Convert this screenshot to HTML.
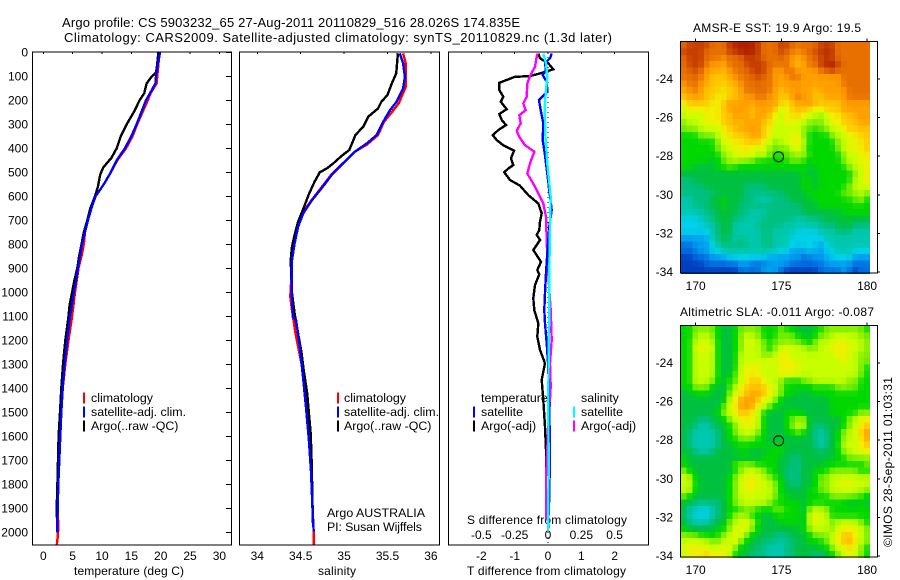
<!DOCTYPE html>
<html>
<head>
<meta charset="utf-8">
<style>
html,body{margin:0;padding:0;background:#fff}
svg{display:block;font-family:"Liberation Sans",sans-serif;fill:#000}
text{font-size:12px;fill:#000}
text.big{font-size:13px}
text.leg{font-size:12.4px}
</style>
</head>
<body>
<svg id="chart" width="900" height="580" viewBox="0 0 900 580" xmlns="http://www.w3.org/2000/svg">
<rect x="0" y="0" width="900" height="580" fill="#fff"/>
<text class="big" x="62" y="27" textLength="458">Argo profile: CS 5903232_65 27-Aug-2011 20110829_516 28.026S 174.835E</text>
<text class="big" x="64" y="42" textLength="548">Climatology: CARS2009. Satellite-adjusted climatology: synTS_20110829.nc (1.3d later)</text>
<text x="693" y="32" textLength="168">AMSR-E SST: 19.9 Argo: 19.5</text>
<text x="680" y="316" textLength="194">Altimetric SLA: -0.011 Argo: -0.087</text>
<text x="74" y="575" textLength="110">temperature (deg C)</text>
<text x="318" y="575" textLength="38">salinity</text>
<text x="467" y="575" textLength="159">T difference from climatology</text>
<text x="467" y="524" textLength="160">S difference from climatology</text>
<text class="leg" x="327" y="517" textLength="98">Argo AUSTRALIA</text>
<text class="leg" x="327" y="531" textLength="95">PI: Susan Wijffels</text>
<text transform="translate(892,547) rotate(-90)" textLength="170">©IMOS 28-Sep-2011 01:03:31</text>
</svg>
<script>
// ---- chart data ----
const depthTicks = [0,100,200,300,400,500,600,700,800,900,1000,1100,1200,1300,1400,1500,1600,1700,1800,1900,2000];
const tempTicks = [0,5,10,15,20,25,30];
const salTicks = [34,34.5,35,35.5,36];
const salTickLabels = ['34','34.5','35','35.5','36'];
const tDiffTicks = [-2,-1,0,1,2];
const tDiffLabels = ['-2','-1','0','1','2'];
const sDiffTicks = [-0.5,-0.25,0,0.25,0.5];
const sDiffLabels = ['-0.5','-0.25','0','0.25','0.5'];
const lonTicks = [170,175,180];
const latTicks = [-24,-26,-28,-30,-32,-34];
const floatLon = 174.835;
const floatLat = -28.026;

const tempClimDepth = [0,50,100,130,170,200,250,300,350,400,450,500,550,600,650,700,750,800,850,900,1000,1100,1200,1300,1400,1500,1600,1700,1800,1900,1980,2020,2055];
const tempClim = [19.8,19.6,19.4,19.3,18.3,17.8,16.9,16,15.2,14.1,12.6,11.5,10.3,8.9,8.2,7.6,7.1,6.9,6.5,6,5.4,4.9,4.3,3.75,3.3,3.07,2.9,2.73,2.56,2.45,2.55,2.45,2.28];
const tempSatDepth = [0,50,100,130,170,200,250,300,350,400,450,500,550,600,650,700,750,800,850,900,950,1000,1050,1100,1200,1300,1400,1500,1600,1700,1800,1900,2000];
const tempSat = [19.9,19.5,19.2,19.1,18.2,17.5,16.7,15.9,15,13.9,12.5,11.5,10.3,8.9,8.2,7.6,7.1,6.6,6.25,5.9,5.6,5.2,4.9,4.55,4.05,3.63,3.3,3.07,2.9,2.73,2.56,2.45,2.33];
const tempArgoDepth = [0,50,85,100,130,170,200,250,300,350,400,440,480,510,560,600,650,700,750,800,850,900,950,1000,1050,1100,1200,1300,1400,1500,1600,1700,1800,1900,2000];
const tempArgo = [19.6,19.4,19.2,18.5,17.6,17.2,16.4,15.4,14.2,13.2,12.5,11.6,10.2,9.7,9.3,8.8,8,7.5,6.9,6.5,6.1,5.8,5.3,4.9,4.5,4.3,3.75,3.35,3.07,2.85,2.6,2.5,2.4,2.28,2.4];

const salClimDepth = [4,46,100,145,212,250,289,345,385,414,463,511,567,616,671,727,796,866,949,1018,1074,1171,1300,1450,1600,1750,1890,2000,2055];
const salClim = [35.68,35.71,35.71,35.71,35.63,35.55,35.46,35.39,35.26,35.125,34.985,34.85,34.73,34.625,34.52,34.46,34.42,34.395,34.39,34.38,34.4,34.44,34.51,34.565,34.605,34.625,34.635,34.65,34.65];
const salSatDepth = [4,46,102,150,206,241,289,345,380,414,463,511,567,616,671,727,796,866,949,1032,1102,1115,1226,1365,1476,1615,1754,1893,1997];
const salSat = [35.64,35.68,35.7,35.68,35.605,35.53,35.45,35.375,35.26,35.125,34.99,34.857,34.74,34.63,34.53,34.47,34.43,34.4,34.395,34.4,34.41,34.446,34.49,34.53,34.56,34.595,34.62,34.635,34.65];
const salArgoDepth = [4,88,130,178,206,234,268,310,345,407,432,463,484,500,539,595,643,706,761,810,866,921,1004,1088,1171,1254,1324,1421,1504,1588,1699,1851,1962];
const salArgo = [35.62,35.6,35.55,35.5,35.43,35.39,35.28,35.22,35.13,35.06,34.97,34.875,34.8,34.72,34.66,34.59,34.54,34.47,34.43,34.4,34.385,34.39,34.4,34.43,34.47,34.51,34.535,34.575,34.595,34.615,34.625,34.635,34.64];

const dTempArgoDepth = [5,25,46,71,88,99,102,118,127,157,185,206,237,257,282,303,324,345,366,387,410,442,470,484,500,532,556,595,630,671,706,741,761,782,824,873,907,925,970,1025,1074,1129,1185,1240,1296,1365,1449,1560,1657,1761];
const dTempArgo = [-0.29,-0.24,0.01,0.16,-0.24,-0.54,-0.99,-1.29,-1.46,-1.46,-1.34,-1.42,-1.24,-1.46,-1.39,-1.26,-1.49,-1.66,-1.54,-1.34,-1.02,-1.11,-1.04,-1.19,-1.31,-1.14,-0.84,-0.59,-0.29,-0.19,-0.24,-0.26,-0.34,-0.24,-0.44,-0.21,-0.32,-0.26,-0.39,-0.44,-0.41,-0.29,-0.32,-0.24,-0.09,-0.19,-0.14,-0.09,-0.06,-0.06];
const dTempSatDepth = [5,25,46,74,95,123,164,199,241,296,366,428,505,574,657,727,838,921,1004,1074,1129,1213,1310,1504,1643,1851,1990];
const dTempSat = [0.11,0.06,-0.09,-0.06,-0.16,-0.04,-0.02,-0.27,-0.22,-0.14,-0.16,-0.09,-0.02,0.04,0.11,0.04,-0.02,-0.06,-0.09,-0.11,-0.09,-0.04,0.01,0.04,0.06,0.04,0];
const dSalArgoDepth = [5,60,99,130,185,213,241,262,296,327,352,387,414,463,505,560,630,685,782,852,991,1074,1199,1296,1393,1588,1770,1935,1950];
const dSalArgo = [-0.08,-0.0975,-0.135,-0.155,-0.16,-0.185,-0.1675,-0.215,-0.205,-0.235,-0.215,-0.1725,-0.1025,-0.135,-0.155,-0.0975,-0.035,-0.015,-0.01,-0.005,0.01,0.02,0.0275,0.015,0.02,0,-0.015,-0.015,-0.01];
const dSalSatDepth = [5,46,102,157,227,338,463,602,727,921,1074,1240,1449,1726,1990];
const dSalSat = [-0.035,-0.015,-0.005,-0.015,-0.025,-0.02,-0.005,0.02,0.015,0.01,0.01,0.005,0.0025,0.005,0];

const levelColors = [[0,64,192],[0,112,224],[0,160,240],[0,208,232],[0,200,176],[0,192,128],[0,192,64],[0,216,0],[128,240,0],[200,255,0],[240,240,0],[255,200,0],[255,160,0],[232,112,0],[200,64,0],[176,32,0]];
const sstRows = [
"DEEEEDDDEFFFFEDDDEEDDDDDEEEDDDDDD",
"EEEEDDDDEEFFFEDDDEDDCDDEEFEDDDDDD",
"DEEEDDDCDDDEEEDDDDDCCCDDEEEDDDDDD",
"DEEEDCCCDDDEEEEDDDDCBCDDEFFEDDDDD",
"DDEDCCCBCDDDEEEDCCDDCCCCDDEDDDDDD",
"DDDDCBBBCCDDDEDDCCCDDCCCCCCCDDDDD",
"CDDCCBBBBCCDDDDDCCCCCCCCCCCCDDDDD",
"CCDCBBBABBCDDDDDCBCCCCCBCCCCCDDDD",
"BCCCBBAABBCCCDDCCBBCDCCBBCCCCDDDD",
"ABBBBAABCCCCCCCCCBABCCCCBBBBCCCCC",
"9AAAAAABCCCCBCCCB9ABBBB9ABBBCCCCC",
"9999AAABBCCCBCCBA9AABA9989AABBCCC",
"8999AAABBCBCCCBB99AA998889AABBBCC",
"8889999ABBCCCCBA999998878899ABBBB",
"7778889AABBBCCBA999AA87777899AABB",
"77777789AAABBBA9899AA977777899AAB",
"777777899AAAA9A88889A87777789AAAB",
"7777777899AA9998778889777777899AA",
"7777767889888777777887777777899AA",
"77666677877777777777776777777899A",
"66666666666666666666676677777789A",
"55666666666666666666677677777799A",
"555566666665555666666776777778999",
"555555666665555555666677777788898",
"445556676665544455566667777777887",
"445556676655555555555666777777777",
"444455666655444555555666666677777",
"333445666554445555554455566666666",
"333344566444455555444444555666555",
"333334566444445544443333444555444",
"222224565454445544433333344444444",
"112223455555445544433333234444444",
"111223344444444443322232233444333",
"001112223333333222222112223333222",
"000011111122111222211111122222111",
"000000000011112221000000111121011"
];
const slaRows = [
"778888766788887778776667788888887",
"778998766789987778887767889999988",
"77999976678A998788888778999AA9998",
"779AA9766789998789A9998899AAAA998",
"77999976679999889AA99999999AA9988",
"779999766799999A9AAA99999999A9988",
"77999976679AAA999AAAA999999999987",
"77999976689AAA999AAA9999999999987",
"779998768 9ABBA99877788999999887".replace(' ','7')+"7",
"778887667"+"9A"+"BBBB"+"A98"+"777777777"+"888877",
"667776668"+"9A"+"BCCB"+"A98"+"776667777"+"777777",
"66666666"+"9A"+"CCC"+"BA9"+"87"+"66666666"+"7777777",
"66666668"+"9A"+"CCC"+"A9"+"87"+"666666666"+"7777777",
"666666789ABBA9766677"+"76666677"+"77788",
"66655667"+"89AAA9"+"7666"+"7889"+"66666"+"6789"+"AA",
"66544566"+"789AA9"+"7666"+"7899"+"65566"+"6789"+"AB",
"6544445"+"6789998"+"7666"+"7787"+"65456"+"7899"+"BC",
"6544445"+"6778887"+"7666"+"6666"+"65456"+"7899"+"AC",
"6544445"+"6677777"+"7677"+"6666"+"65456"+"7999"+"AB",
"6654456"+"6667766"+"6777"+"6666"+"66566"+"7899"+"AA",
"7666666"+"6666666"+"7776"+"6556"+"66666"+"7788"+"88",
"7666666"+"6688887"+"7776"+"6556"+"66677"+"7777"+"78",
"8766666"+"6678999"+"8776"+"5556"+"67778"+"8888"+"77",
"9976666"+"6789AA9"+"9877"+"5556"+"67889"+"9999"+"99",
"9976666"+"6789AAA"+"9987"+"6556"+"67889"+"9AA9"+"99",
"9976666"+"6789AA9"+"9987"+"6666"+"77889"+"9999"+"98",
"8766666"+"6789999"+"9987"+"7666"+"77778"+"8888"+"77",
"6655555"+"6789999"+"9877"+"7776"+"77777"+"7766"+"76",
"6443345"+"6777887"+"7788"+"7776"+"89987"+"7777"+"77",
"6433345"+"6789877"+"6677"+"7776"+"9A997"+"7777"+"77",
"6544456"+"6899A97"+"6667"+"7776"+"9A998"+"9999"+"87",
"7666667"+"789A987"+"6666"+"6667"+"89998"+"9AAA"+"98",
"8887777"+"89A9876"+"6655"+"5666"+"78889"+"ABBA"+"98",
"9999988"+"99A8766"+"5554"+"5566"+"77789"+"ABCA"+"98",
"9AAA999"+"A987665"+"5444"+"5566"+"66778"+"9AAA"+"87",
"9AAABAA"+"A976655"+"5444"+"5566"+"65567"+"89A9"+"87"
];

// ---- drawing ----
const NS = 'http://www.w3.org/2000/svg';
const svg = document.getElementById('chart');
function make(tag, attrs){
  const el = document.createElementNS(NS, tag);
  for (const k in attrs) el.setAttribute(k, attrs[k]);
  svg.appendChild(el);
  return el;
}
function label(x, y, str, anchor, name, cls){
  const el = make('text', {x:x, y:y, 'text-anchor':anchor});
  if (cls) el.setAttribute('class', cls);
  el.textContent = str;
  
  
  return el;
}
function tick(x1, y1, x2, y2, name){
  const el = make('line', {x1:x1, y1:y1, x2:x2, y2:y2, stroke:'#000', 'stroke-width':1, 'shape-rendering':'crispEdges'});
  
  
}
function series(values, depths, xFn, color, name, width){
  const pts = values.map((v, i) => xFn(v).toFixed(1) + ',' + yDepth(depths[i]).toFixed(1)).join(' ');
  const el = make('polyline', {points:pts, fill:'none', stroke:color, 'stroke-width':width || 2.4, 'shape-rendering':'crispEdges'});
  
  
}
function legendMark(x, y, color, name){
  const el = make('rect', {x:x, y:y-5.5, width:2, height:11, fill:color, 'shape-rendering':'crispEdges'});
  
  
}
const TOP = 52, BOTTOM = 545;
function yDepth(d){ return 52.3 + d * 0.24; }
function xTemp(v){ return 43.3 + v * 5.87; }
function xSal(v){ return 257.3 + (v - 34) * 86.8; }
function xDT(v){ return 548 + v * 33.33; }
function xDS(v){ return 548 + v * 133.3; }
function xLon(v){ return 695.7 + (v - 170) * 17.14; }
function yLatA(v){ return 79 + (-24 - v) * 19.3; }
function yLatB(v){ return 363 + (-24 - v) * 19.3; }

function frame(x, y, w, h, name){
  const el = make('rect', {x:x, y:y, width:w, height:h, fill:'none', stroke:'#000', 'stroke-width':1, 'shape-rendering':'crispEdges'});
  
  
}

// temperature panel
depthTicks.forEach(d => {
  label(28, yDepth(d) + 4, String(d), 'end', 'depth-tick-label');
  tick(226, yDepth(d), 231, yDepth(d), 'depth-tick');
});
tempTicks.forEach(t => {
  tick(xTemp(t), TOP, xTemp(t), TOP + 2, 'temperature-tick');
  label(xTemp(t), 560, String(t), 'middle', 'temperature-tick-label');
});
series(tempClim, tempClimDepth, xTemp, '#ff0000', 'temperature-climatology-line');
series(tempArgo, tempArgoDepth, xTemp, '#000000', 'temperature-argo-line');
series(tempSat, tempSatDepth, xTemp, '#0000ff', 'temperature-satellite-line');
frame(32.5, TOP, 199, BOTTOM - TOP, 'temperature-panel-frame');

// salinity panel
salTicks.forEach((s, i) => {
  tick(xSal(s), TOP, xSal(s), TOP + 2, 'salinity-tick');
  label(xSal(s), 560, salTickLabels[i], 'middle', 'salinity-tick-label');
});
series(salClim, salClimDepth, xSal, '#ff0000', 'salinity-climatology-line');
series(salArgo, salArgoDepth, xSal, '#000000', 'salinity-argo-line');
series(salSat, salSatDepth, xSal, '#0000ff', 'salinity-satellite-line');
frame(239.5, TOP, 200, BOTTOM - TOP, 'salinity-panel-frame');

// difference panel
const zeroLine = make('line', {x1:xDT(0), y1:TOP, x2:xDT(0), y2:BOTTOM, stroke:'#000', 'stroke-width':1, 'stroke-dasharray':'1 4', 'shape-rendering':'crispEdges'});


tDiffTicks.forEach((t, i) => {
  tick(xDT(t), TOP, xDT(t), TOP + 2, 't-difference-tick');
  label(xDT(t), 560, tDiffLabels[i], 'middle', 't-difference-tick-label');
});
sDiffTicks.forEach((s, i) => {
  label(xDS(s), 539, sDiffLabels[i], 'middle', 's-difference-tick-label');
});
series(dTempArgo, dTempArgoDepth, xDT, '#000000', 'temperature-difference-argo-line');
series(dSalArgo, dSalArgoDepth, xDS, '#ff00ff', 'salinity-difference-argo-line');
series(dTempSat, dTempSatDepth, xDT, '#0000ff', 'temperature-difference-satellite-line');
series(dSalSat, dSalSatDepth, xDS, '#00ffff', 'salinity-difference-satellite-line');
frame(448.5, TOP, 200, BOTTOM - TOP, 'difference-panel-frame');

// legends
legendMark(83, 398, '#ff0000', 'legend-climatology-marker');
legendMark(83, 412, '#0000ff', 'legend-satellite-marker');
legendMark(83, 426, '#000000', 'legend-argo-marker');
label(91, 402, 'climatology', 'start', 'legend-climatology-label', 'leg');
label(91, 416, 'satellite-adj. clim.', 'start', 'legend-satellite-label', 'leg');
label(91, 430, 'Argo(..raw -QC)', 'start', 'legend-argo-label', 'leg');
legendMark(337, 398, '#ff0000', 'legend-climatology-marker');
legendMark(337, 412, '#0000ff', 'legend-satellite-marker');
legendMark(337, 426, '#000000', 'legend-argo-marker');
label(344, 402, 'climatology', 'start', 'legend-climatology-label', 'leg');
label(344, 416, 'satellite-adj. clim.', 'start', 'legend-satellite-label', 'leg');
label(344, 430, 'Argo(..raw -QC)', 'start', 'legend-argo-label', 'leg');
legendMark(473, 412, '#0000ff', 'legend-t-satellite-marker');
legendMark(473, 426, '#000000', 'legend-t-argo-marker');
legendMark(573, 412, '#00ffff', 'legend-s-satellite-marker');
legendMark(573, 426, '#ff00ff', 'legend-s-argo-marker');
label(481, 402, 'temperature', 'start', 'legend-temperature-heading', 'leg');
label(481, 416, 'satellite', 'start', 'legend-t-satellite-label', 'leg');
label(481, 430, 'Argo(-adj)', 'start', 'legend-t-argo-label', 'leg');
label(581, 402, 'salinity', 'start', 'legend-salinity-heading', 'leg');
label(581, 416, 'satellite', 'start', 'legend-s-satellite-label', 'leg');
label(581, 430, 'Argo(-adj)', 'start', 'legend-s-argo-label', 'leg');

// maps
const lonStart = 169.14, latStart = -22.08, step = 1 / 3;
function levelAt(rows, r, c){
  const row = rows[Math.max(0, Math.min(rows.length - 1, r))];
  const cc = Math.max(0, Math.min(32, c));
  return parseInt(row[cc] || row[row.length - 1], 16);
}
function levelColor(v){
  const i = Math.min(levelColors.length - 2, Math.floor(v));
  const f = v - i;
  const a = levelColors[i], b = levelColors[i + 1];
  return 'rgb(' + a.map((p, k) => Math.round(p + (b[k] - p) * f)).join(',') + ')';
}
function heatmap(rows, yLat, name){
  rows.forEach((row, r) => {
    for (let c = 0; c < 33; c++) {
      // the source image is a shaded field, so each cell blends gently with its neighbours
      const v = 0.44 * levelAt(rows, r, c) + 0.14 * (levelAt(rows, r - 1, c) + levelAt(rows, r + 1, c) + levelAt(rows, r, c - 1) + levelAt(rows, r, c + 1));
      const x0 = xLon(lonStart + c * step), x1 = xLon(lonStart + (c + 1) * step);
      const y0 = yLat(latStart - r * step), y1 = yLat(latStart - (r + 1) * step);
      const el = make('rect', {x:x0.toFixed(2), y:y0.toFixed(2), width:(x1 - x0 + 0.4).toFixed(2), height:(y1 - y0 + 0.4).toFixed(2), fill:levelColor(v), 'shape-rendering':'crispEdges'});
      
      
    }
  });
}
function mapAxes(yLat, topY, bottomY, labelY, prefix){
  frame(680.5, topY, 197, bottomY - topY, prefix + '-map-frame');
  lonTicks.forEach(l => {
    tick(xLon(l), topY - 3, xLon(l), topY, prefix + '-longitude-tick');
    label(xLon(l), labelY, String(l), 'middle', prefix + '-longitude-label');
  });
  latTicks.forEach(l => {
    tick(877, yLat(l), 880, yLat(l), prefix + '-latitude-tick');
    label(673, yLat(l) + 4, String(l), 'end', prefix + '-latitude-label');
  });
  const marker = make('circle', {cx:xLon(floatLon), cy:yLat(floatLat), r:5, fill:'none', stroke:'#000', 'stroke-width':1});
  
  
}
heatmap(sstRows, yLatA, 'sst-cell');
heatmap(slaRows, yLatB, 'sla-cell');
mapAxes(yLatA, 41.5, 273, 290, 'sst');
mapAxes(yLatB, 325.5, 557, 574, 'sla');
</script>
</body>
</html>
